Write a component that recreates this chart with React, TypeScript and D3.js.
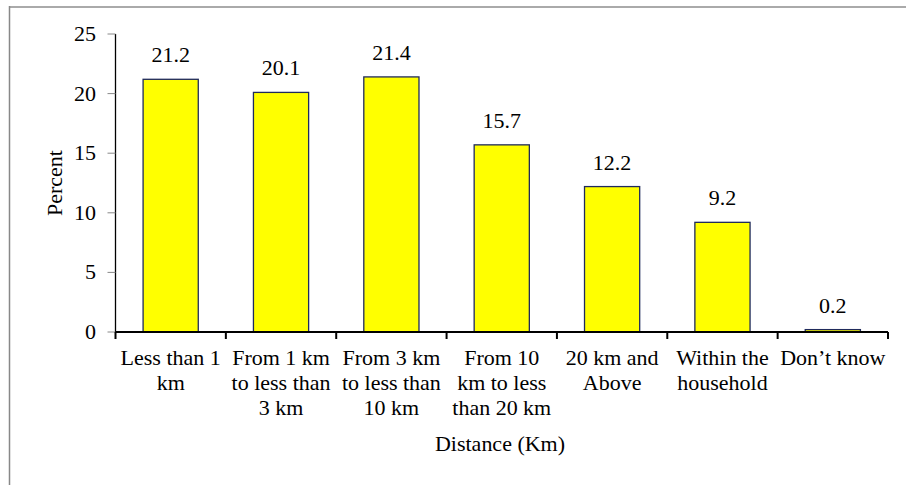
import React from "react";
import * as d3 from "d3";

const categories: string[][] = [
  ["Less than 1", "km"],
  ["From 1 km", "to less than", "3 km"],
  ["From 3 km", "to less than", "10 km"],
  ["From 10", "km to less", "than 20 km"],
  ["20 km and", "Above"],
  ["Within the", "household"],
  ["Don\u2019t know"],
];
const values: number[] = [21.2, 20.1, 21.4, 15.7, 12.2, 9.2, 0.2];
const yTicks: number[] = [0, 5, 10, 15, 20, 25];
const yTitle = "Percent";
const xTitle = "Distance (Km)";

const W = 906;
const H = 485;
const x0 = 115.5;
const x1 = 888;
const yTop = 34;
const yBot = 332;
const FONT = "Liberation Serif, Times New Roman, Tinos, DejaVu Serif, serif";
const FS = 20;
const SX = 1.1;

function STxt(props: { x: number; y: number; anchor?: string; children: React.ReactNode; rotate?: boolean }) {
  const { x, y, anchor = "middle", children, rotate } = props;
  const t = rotate
    ? `translate(${x},${y}) rotate(-90) scale(${SX},1)`
    : `translate(${x},${y}) scale(${SX},1)`;
  return (
    <text transform={t} textAnchor={anchor} style={{ fontFamily: FONT, fontSize: FS }} fill="#000">
      {children}
    </text>
  );
}

export default function App() {
  const idx = categories.map((_, i) => String(i));
  const xs = d3.scaleBand<string>().domain(idx).range([x0, x1]).paddingInner(0.5).paddingOuter(0.25);
  const ys = d3.scaleLinear().domain([0, 25]).range([yBot, yTop]);
  const step = xs.step();

  return (
    <svg width={W} height={H} style={{ position: "absolute", left: 0, top: 0 }}>
      <rect x={0} y={0} width={W} height={H} fill="#fff" />
      {/* frame */}
      <line x1={9} y1={7} x2={W} y2={7} stroke="#aaa" strokeWidth={2} />
      <line x1={9.5} y1={6} x2={9.5} y2={H} stroke="#888" strokeWidth={1.5} />

      {/* bars */}
      {values.map((v, i) => (
        <rect
          key={i}
          x={xs(String(i))!}
          y={ys(v)}
          width={xs.bandwidth()}
          height={yBot - ys(v)}
          fill="#ffff00"
          stroke="#1f2a5c"
          strokeWidth={1.3}
        />
      ))}
      {values.map((v, i) => (
        <STxt key={"v" + i} x={xs(String(i))! + xs.bandwidth() / 2} y={ys(v) - 17}>
          {v.toFixed(1)}
        </STxt>
      ))}

      {/* y axis */}
      <line x1={x0} y1={yTop} x2={x0} y2={yBot} stroke="#000" strokeWidth={1.3} />
      {yTicks.map((t) => (
        <g key={t}>
          <line x1={x0 - 8} x2={x0} y1={ys(t)} y2={ys(t)} stroke="#888" strokeWidth={1} />
          <STxt x={96} y={ys(t) + 7} anchor="end">
            {t}
          </STxt>
        </g>
      ))}

      {/* x axis */}
      <line x1={x0} y1={yBot} x2={x1} y2={yBot} stroke="#000" strokeWidth={2} />
      {d3.range(categories.length + 1).map((i) => (
        <line key={i} x1={x0 + i * step} x2={x0 + i * step} y1={yBot} y2={yBot + 7} stroke="#000" strokeWidth={2} />
      ))}
      {categories.map((lines, i) => (
        <g key={"c" + i}>
          {lines.map((l, j) => (
            <STxt key={j} x={xs(String(i))! + xs.bandwidth() / 2} y={365 + j * 25}>
              {l}
            </STxt>
          ))}
        </g>
      ))}

      {/* titles */}
      <STxt x={62} y={183} rotate>
        {yTitle}
      </STxt>
      <STxt x={500} y={451}>
        {xTitle}
      </STxt>
    </svg>
  );
}
